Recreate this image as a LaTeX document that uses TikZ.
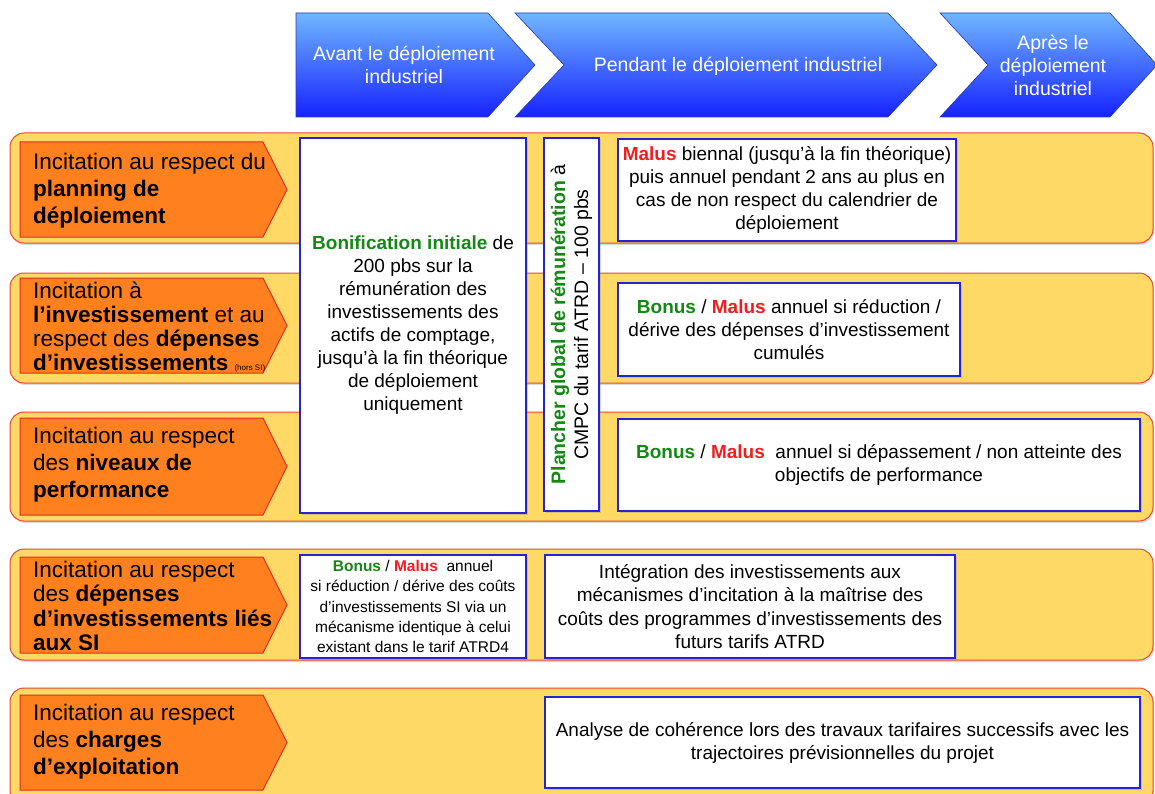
\documentclass[tikz,border=0pt]{standalone}
\usepackage{fontspec}
\setmainfont{Liberation Sans}
\usetikzlibrary{shadows}

\definecolor{bandyellow}{RGB}{255,217,102}
\definecolor{bandred}{RGB}{232,72,52}
\definecolor{arroworange}{RGB}{255,128,30}
\definecolor{arrowred}{RGB}{225,45,35}
\definecolor{boxblue}{RGB}{35,35,215}
\definecolor{chevtop}{RGB}{112,182,255}
\definecolor{chevbot}{RGB}{22,34,255}
\definecolor{chevline}{RGB}{40,60,170}
\definecolor{bonusgreen}{RGB}{20,135,20}
\definecolor{malusred}{RGB}{240,30,30}

\newcommand{\bonus}{\textcolor{bonusgreen}{\textbf{Bonus}}}
\newcommand{\malus}{\textcolor{malusred}{\textbf{Malus}}}

\tikzset{
  band/.style={draw=bandred, fill=bandyellow, line width=1pt, rounded corners=14pt,
    drop shadow={opacity=0.3, shadow xshift=1pt, shadow yshift=-2pt}},
  incit/.style={draw=arrowred, fill=arroworange, line width=1pt},
  chevron/.style={draw=chevline, top color=chevtop, bottom color=chevbot, line width=0.6pt},
  mesure/.style={draw=boxblue, fill=white, line width=1.2pt, align=center, inner sep=1pt,
    font=\fontsize{19}{23}\selectfont,
    drop shadow={opacity=0.3, shadow xshift=1.5pt, shadow yshift=-1.5pt}},
  incittext/.style={anchor=west, align=left, inner sep=0pt, font=\fontsize{22.5}{27}\selectfont},
  chevtext/.style={text=white, align=center, font=\fontsize{19.5}{23}\selectfont}
}

\begin{document}
\begin{tikzpicture}[x=1pt, y=-1pt]
\useasboundingbox (0,0) rectangle (1155,794);

% Phases
\draw [chevron] (296,13) -- (488,13) -- (535,65) -- (488,117) -- (296,117) -- cycle;
\draw [chevron] (515,13) -- (888,13) -- (937,65) -- (888,117) -- (515,117) -- (564,65) -- cycle;
\draw [chevron] (940,13) -- (1110,13) -- (1157,65) -- (1110,117) -- (940,117) -- (988,65) -- cycle;
\node [chevtext] (avant) at (404,65) {Avant le déploiement\\industriel};
\node [chevtext] (pendant) at (738,66) {Pendant le déploiement industriel};
\node [chevtext] (apres) at (1053,65) {Après le\\déploiement\\industriel};

% Yellow bands
\draw [band] (10,133) rectangle (1153,243);
\draw [band] (10,273) rectangle (1153,383);
\draw [band] (10,412) rectangle (1153,521);
\draw [band] (10,549) rectangle (1153,660);
\draw [band] (10,688) rectangle (1153,805);

% Incitations (orange arrows)
\draw [incit] (20,142) -- (263,142) -- (287,189.5) -- (263,237) -- (20,237) -- cycle;
\draw [incit] (20,278) -- (263,278) -- (287,325.5) -- (263,373) -- (20,373) -- cycle;
\draw [incit] (20,418) -- (263,418) -- (287,466.5) -- (263,515) -- (20,515) -- cycle;
\draw [incit] (20,557) -- (263,557) -- (287,605) -- (263,653) -- (20,653) -- cycle;
\draw [incit] (20,695) -- (263,695) -- (287,742.5) -- (263,790) -- (20,790) -- cycle;

\node [incittext] (planning) at (33,191) {Incitation au respect du\\\textbf{planning de}\\\textbf{déploiement}};
\node [incittext, font=\fontsize{22.5}{24}\selectfont] (invest) at (33,327)
  {Incitation à\\\textbf{l’investissement} et au\\respect des \textbf{dépenses}\\\textbf{d’investissements} {\fontsize{8}{9}\selectfont(hors SI)}};
\node [incittext] (perf) at (33,465) {Incitation au respect\\des \textbf{niveaux de}\\\textbf{performance}};
\node [incittext, font=\fontsize{22.5}{24.5}\selectfont] (si) at (33,606)
  {Incitation au respect\\des \textbf{dépenses}\\\textbf{d’investissements liés}\\\textbf{aux SI}};
\node [incittext] (charges) at (33,742) {Incitation au respect\\des \textbf{charges}\\\textbf{d’exploitation}};

% Mechanisms
\node [mesure, minimum width=226, minimum height=375] (bonif) at (413,325.5)
  {\textcolor{bonusgreen}{\textbf{Bonification initiale}} de\\200 pbs sur la\\rémunération des\\investissements des\\actifs de comptage,\\jusqu’à la fin théorique\\de déploiement\\uniquement};
\node [mesure, rotate=90, minimum width=373, minimum height=55, font=\fontsize{19.5}{23}\selectfont] (plancher) at (571.5,324.5)
  {\textcolor{bonusgreen}{\textbf{Plancher global de rémunération}} à\\CMPC du tarif ATRD – 100 pbs};
\node [mesure, minimum width=338, minimum height=102] (malusbi) at (787,190)
  {\malus{} biennal (jusqu’à la fin théorique)\\puis annuel pendant 2 ans au plus en\\cas de non respect du calendrier de\\déploiement};
\node [mesure, minimum width=342, minimum height=93] (bminvest) at (789,329.5)
  {\bonus{} / \malus{} annuel si réduction /\\dérive des dépenses d’investissement\\cumulés};
\node [mesure, minimum width=522, minimum height=92] (bmperf) at (879,465)
  {\bonus{} / \malus{}\ \ annuel si dépassement / non atteinte des\\objectifs de performance};
\node [mesure, minimum width=226, minimum height=103, font=\fontsize{15.5}{20.2}\selectfont] (bmsi) at (413,606.5)
  {\bonus{} / \malus{}\ \ annuel\\si réduction / dérive des coûts\\d’investissements SI via un\\mécanisme identique à celui\\existant dans le tarif ATRD4};
\node [mesure, minimum width=410, minimum height=103, font=\fontsize{19}{23.5}\selectfont] (integ) at (750,606.5)
  {Intégration des investissements aux\\mécanismes d’incitation à la maîtrise des\\coûts des programmes d’investissements des\\futurs tarifs ATRD};
\node [mesure, minimum width=595, minimum height=91] (analyse) at (842.5,742.5)
  {Analyse de cohérence lors des travaux tarifaires successifs avec les\\trajectoires prévisionnelles du projet};

\end{tikzpicture}
\end{document}
